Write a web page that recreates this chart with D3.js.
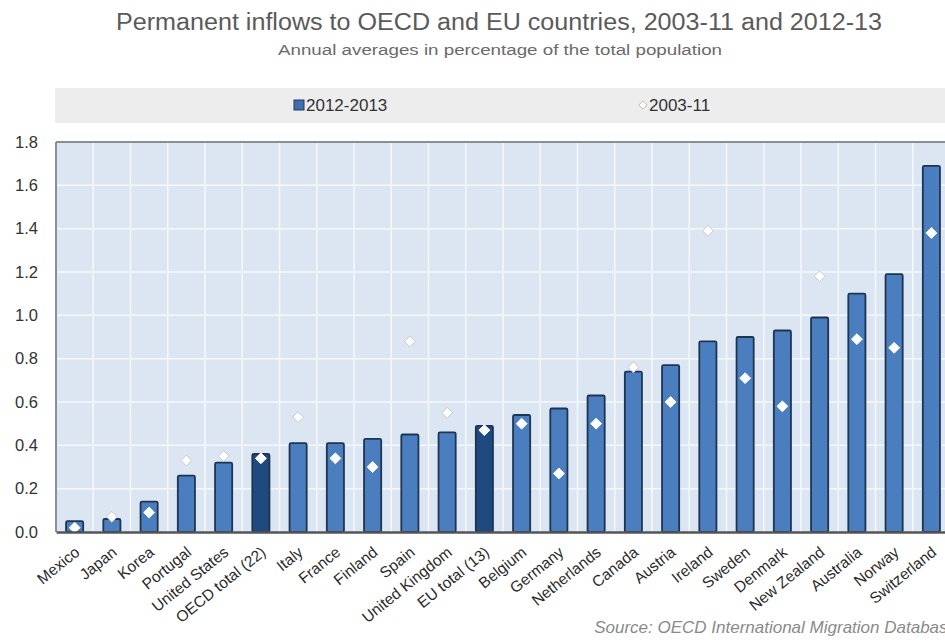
<!DOCTYPE html>
<html>
<head>
<meta charset="utf-8">
<script src="https://cdn.jsdelivr.net/npm/d3@7"></script>
<style>
  body { margin: 0; background: #fff; }
  svg { display: block; font-family: "Liberation Sans", Arial, sans-serif; }
</style>
</head>
<body>
<div id="chart"></div>
<script>
// Permanent inflows chart

var countries = ["Mexico", "Japan", "Korea", "Portugal", "United States", "OECD total (22)",
  "Italy", "France", "Finland", "Spain", "United Kingdom", "EU total (13)", "Belgium",
  "Germany", "Netherlands", "Canada", "Austria", "Ireland", "Sweden", "Denmark",
  "New Zealand", "Australia", "Norway", "Switzerland"];

var values2012 = [0.05, 0.06, 0.14, 0.26, 0.32, 0.36, 0.41, 0.41, 0.43, 0.45, 0.46, 0.49,
  0.54, 0.57, 0.63, 0.74, 0.77, 0.88, 0.90, 0.93, 0.99, 1.10, 1.19, 1.69];

var values2003 = [0.02, 0.07, 0.09, 0.33, 0.35, 0.34, 0.53, 0.34, 0.30, 0.88, 0.55, 0.47,
  0.50, 0.27, 0.50, 0.76, 0.60, 1.39, 0.71, 0.58, 1.18, 0.89, 0.85, 1.38];

var totals = ["OECD total (22)", "EU total (13)"];
var yTicks = [0, 0.2, 0.4, 0.6, 0.8, 1.0, 1.2, 1.4, 1.6, 1.8];

var width = 945;
var height = 644;
var margin = { top: 142, right: -5, bottom: 112, left: 56 };
var innerWidth = width - margin.left - margin.right;
var innerHeight = height - margin.top - margin.bottom;

var svg = d3.select("#chart")
  .append("svg")
  .attr("width", width)
  .attr("height", height);

// titles
svg.append("text")
  .attr("x", 499)
  .attr("y", 30)
  .attr("text-anchor", "middle")
  .attr("fill", "#5a5a5a")
  .attr("textLength", 766)
  .attr("lengthAdjust", "spacingAndGlyphs")
  .style("font-size", "23px")
  .text("Permanent inflows to OECD and EU countries, 2003-11 and 2012-13");

svg.append("text")
  .attr("x", 500)
  .attr("y", 55)
  .attr("text-anchor", "middle")
  .attr("fill", "#6a6a6a")
  .attr("textLength", 444)
  .attr("lengthAdjust", "spacingAndGlyphs")
  .style("font-size", "14px")
  .text("Annual averages in percentage of the total population");

// legend band
svg.append("rect")
  .attr("x", 55)
  .attr("y", 88)
  .attr("width", 890)
  .attr("height", 35)
  .attr("fill", "#ededed");

svg.append("rect")
  .attr("x", 294)
  .attr("y", 100)
  .attr("width", 10)
  .attr("height", 10)
  .attr("fill", "#3f6fae")
  .attr("stroke", "#1f3a5c");

svg.append("text")
  .attr("x", 306)
  .attr("y", 111)
  .attr("fill", "#333")
  .style("font-size", "17px")
  .text("2012-2013");

svg.append("path")
  .attr("d", d3.symbol().type(d3.symbolDiamond2).size(45)())
  .attr("transform", "translate(643,105)")
  .attr("fill", "#fff")
  .attr("stroke", "#bbb");

svg.append("text")
  .attr("x", 649)
  .attr("y", 111)
  .attr("fill", "#333")
  .style("font-size", "17px")
  .text("2003-11");

var g = svg.append("g")
  .attr("transform", "translate(" + margin.left + "," + margin.top + ")");

var xScale = d3.scaleBand()
  .domain(countries)
  .range([0, innerWidth])
  .paddingInner(0.54)
  .paddingOuter(0.27);

var yScale = d3.scaleLinear()
  .domain([0, 1.8])
  .range([innerHeight, 0]);

// plot background
g.append("rect")
  .attr("width", innerWidth)
  .attr("height", innerHeight)
  .attr("fill", "#dce6f2");

// vertical gridlines between categories
var step = xScale.step();
g.selectAll(".vgrid")
  .data(countries.slice(1))
  .enter()
  .append("line")
  .attr("x1", function(d) { return xScale(d) - xScale.paddingInner() * step / 2; })
  .attr("x2", function(d) { return xScale(d) - xScale.paddingInner() * step / 2; })
  .attr("y1", 0)
  .attr("y2", innerHeight)
  .attr("stroke", "#f4f8fc")
  .attr("stroke-width", 1.5);

// horizontal gridlines
g.selectAll(".hgrid")
  .data(yTicks.slice(1, -1))
  .enter()
  .append("line")
  .attr("x1", 0)
  .attr("x2", innerWidth)
  .attr("y1", function(d) { return yScale(d); })
  .attr("y2", function(d) { return yScale(d); })
  .attr("stroke", "#f4f8fc")
  .attr("stroke-width", 1.5);

// frame
g.append("line").attr("x1", 0).attr("x2", innerWidth).attr("y1", 0).attr("y2", 0)
  .attr("stroke", "#8a8f96").attr("stroke-width", 2);
g.append("line").attr("x1", 0).attr("x2", 0).attr("y1", 0).attr("y2", innerHeight)
  .attr("stroke", "#8a8f96").attr("stroke-width", 2);

// bars
var data = countries.map(function(c, i) {
  return { country: c, v12: values2012[i], v03: values2003[i] };
});

g.selectAll(".bar")
  .data(data)
  .enter()
  .append("rect")
  .attr("class", "bar")
  .attr("x", function(d) { return xScale(d.country); })
  .attr("y", function(d) { return yScale(d.v12); })
  .attr("width", xScale.bandwidth())
  .attr("height", function(d) { return innerHeight - yScale(d.v12); })
  .attr("rx", 1.5)
  .attr("fill", function(d) { return totals.indexOf(d.country) >= 0 ? "#1f4a80" : "#4a7ebe"; })
  .attr("stroke", "#1d3553")
  .attr("stroke-width", 1.8);

// diamonds
g.selectAll(".dot")
  .data(data)
  .enter()
  .append("path")
  .attr("d", d3.symbol().type(d3.symbolDiamond2).size(75)())
  .attr("transform", function(d) {
    return "translate(" + (xScale(d.country) + xScale.bandwidth() / 2) + "," + yScale(d.v03) + ")";
  })
  .attr("fill", "#fff")
  .attr("stroke", function(d) { return d.v03 > d.v12 ? "#c8c8c8" : "#fff"; })
  .attr("stroke-width", 1);

// axes
var xAxis = g.append("g")
  .attr("transform", "translate(0," + innerHeight + ")")
  .call(d3.axisBottom(xScale).tickSize(0));

xAxis.select(".domain").attr("stroke", "#555").attr("stroke-width", 2.5);

xAxis.selectAll("text")
  .attr("x", 0)
  .attr("y", 0)
  .attr("dy", null)
  .attr("transform", "translate(6,22) rotate(-39)")
  .style("text-anchor", "end")
  .style("font-size", "15.5px")
  .attr("fill", "#2a2a2a");

var yAxis = g.append("g")
  .call(d3.axisLeft(yScale).tickValues(yTicks).tickFormat(d3.format(".1f")).tickSize(0).tickPadding(18));

yAxis.select(".domain").remove();
yAxis.selectAll("text")
  .style("font-size", "16.5px")
  .attr("fill", "#333");

// source
svg.append("text")
  .attr("x", 957)
  .attr("y", 633)
  .attr("text-anchor", "end")
  .attr("fill", "#8a8a8a")
  .style("font-size", "17px")
  .style("font-style", "italic")
  .text("Source: OECD International Migration Database");
</script>
</body>
</html>
